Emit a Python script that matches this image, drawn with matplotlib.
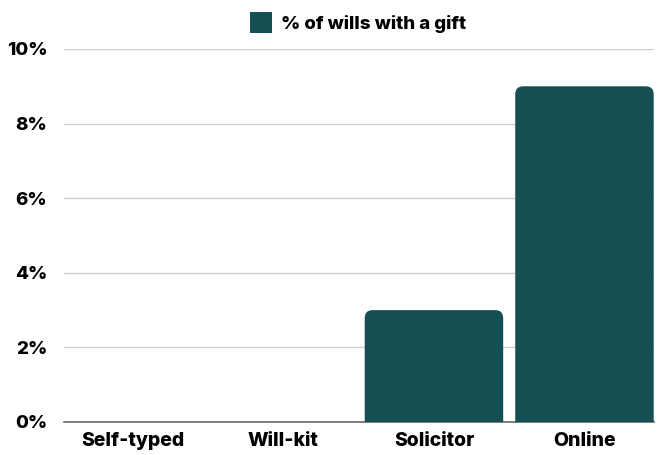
import numpy as np
import matplotlib.pyplot as plt
from matplotlib.patches import FancyBboxPatch, Patch

categories = ["Self-typed", "Will-kit", "Solicitor", "Online"]
gift_share = [0, 0, 3, 9]          # % of wills with a gift
yticks = [0, 2, 4, 6, 8, 10]

teal = "#154f53"
plt.rcParams['font.family'] = ['Inter', 'DejaVu Sans']

fig = plt.figure(figsize=(6.57, 4.55), dpi=100)
ax = fig.add_axes([64 / 657, 33 / 455, 590 / 657, 373 / 455])
ax.set_xlim(-0.458, 3.462)
ax.set_ylim(0, 10)

# bars with rounded top corners; the bottom is pushed below 0 and clipped away
bw = 0.92
px_x = 3.92 / 590
px_y = 10 / 373
r = 8 * px_x
for i, v in enumerate(gift_share):
    if v <= 0:
        continue
    box = FancyBboxPatch((i - bw / 2, -1), bw, v + 1,
                         boxstyle=f"round,pad=0,rounding_size={r}",
                         mutation_aspect=px_y / px_x,
                         facecolor=teal, edgecolor="none", zorder=3)
    ax.add_patch(box)

ax.set_yticks(yticks)
ax.set_yticklabels([f"{t}%" for t in yticks], fontsize=13.5, fontweight=800)
ax.set_xticks(range(len(categories)))
ax.set_xticklabels(categories, fontsize=14, fontweight=800)
ax.tick_params(length=0, pad=7)
ax.tick_params(axis="y", pad=12)

ax.yaxis.grid(True, color="#cfcfcf", linewidth=1)
ax.set_axisbelow(True)
for s in ["top", "right", "left"]:
    ax.spines[s].set_visible(False)
ax.spines["bottom"].set_color("#666666")
ax.spines["bottom"].set_linewidth(1.2)

leg = fig.legend(handles=[Patch(facecolor=teal, edgecolor="none")],
                 labels=["% of wills with a gift"], loc="upper center",
                 bbox_to_anchor=(0.545, 1.01), frameon=False,
                 prop={"weight": 800, "size": 13.5},
                 handlelength=1.2, handleheight=1.3, handletextpad=0.5)

fig.savefig("out.png", dpi=100)
